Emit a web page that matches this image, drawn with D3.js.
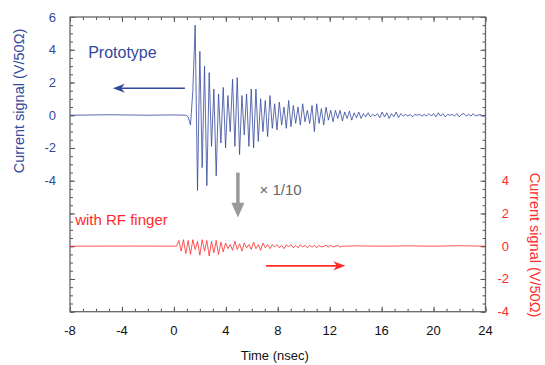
<!DOCTYPE html>
<html>
<head>
<meta charset="utf-8">
<script src="https://cdn.jsdelivr.net/npm/d3@7"></script>
<style>
  body { margin: 0; background: #fff; }
  svg { display: block; font-family: Arial, "Liberation Sans", sans-serif; }
</style>
</head>
<body>
<div id="chart"></div>
<script>
// axis ticks
const xTickLabels = [-8, -4, 0, 4, 8, 12, 16, 20, 24];
const leftTickLabels = [6, 4, 2, 0, -2, -4];
const rightTickLabels = [4, 2, 0, -2, -4];

// prototype signal: flat baseline, then sampled ringing (0.18 ns sampling from 1.10 ns)
const protoBaseline = [[-8, 0], [-5, 0.03], [-2, 0], [0, 0.02], [0.9, 0], [1.0, -0.03]];
const protoStart = 1.10, protoStep = 0.18;
const protoValues = [
  -0.1, -0.6, 1.5, 5.5, -4.6, 3.9, -3.2, 3.0, -4.3, 2.6,
  -1.9, 1.6, -3.7, 1.3, -1.7, 1.7, -2.0, 1.2, -1.0, 2.2,
  -1.9, 2.3, -2.4, 1.2, -1.2, 1.3, -1.9, 1.6, -2.0, 1.6,
  -1.6, 1.0, -1.0, 0.9, -1.3, 1.2, -0.8, 0.7, -0.9, 0.8,
  -0.6, 0.5, -0.8, 0.9, -0.7, 0.6, -0.5, 0.5, -0.6, 0.7,
  -0.4, 0.3, -0.5, 0.6, -1.0, 0.7, -0.5, 0.4, -0.6, 0.5,
  -0.3, 0.3, -0.4, 0.3, -0.2, 0.3, -0.35, 0.2, -0.2, 0.25,
  -0.3, 0.15, -0.15, 0.2, -0.2, 0.1, -0.1, 0.15, -0.1, 0.05,
  -0.05, 0.1, -0.15, 0.2, -0.1, 0.15, -0.2, 0.1, -0.1, 0.2,
  -0.15, 0.1, -0.05, 0.05, -0.05, 0.05, -0.1, 0.05, 0.0, 0.05,
  -0.05, 0.05, -0.05, 0.1, -0.05, 0.1, -0.1, 0.15, -0.05, 0.1,
  -0.1, 0.05, 0.0, 0.05, -0.05, 0.1, -0.1, 0.05, 0.1, -0.05,
  0.05, -0.05, 0.1, -0.05, 0.0, 0.05, -0.05, 0.0
];

// with RF finger signal (right axis)
const fingerBaseline = [[-8, 0], [-3, 0.01], [0.1, 0]];
const fingerStart = 0.20, fingerStep = 0.18;
const fingerValues = [
  0.0, 0.35, -0.3, 0.4, -0.45, 0.35, -0.5, 0.4, -0.2, 0.3,
  -0.55, 0.4, -0.3, 0.35, -0.6, 0.3, -0.4, 0.35, -0.5, 0.25,
  -0.35, 0.2, -0.15, 0.1, -0.25, 0.3, -0.2, 0.15, -0.3, 0.2,
  -0.1, 0.1, -0.2, 0.25, -0.15, 0.1, -0.25, 0.2, -0.1, 0.1,
  -0.15, 0.1, -0.05, 0.1, -0.1, 0.05, -0.15, 0.1, -0.05, 0.1,
  -0.1, 0.05, -0.1, 0.1, -0.05, 0.05, -0.1, 0.05, -0.05, 0.05,
  -0.1, 0.05, -0.05, 0.0, 0.05, -0.05, 0.05, -0.05, 0.0, 0.05,
  -0.05, 0.0
];
const fingerTail = [[14, 0.02], [16, 0], [18, 0.02], [20, 0], [22, 0.03], [24, 0]];

const blue = '#34489c', red = '#ff2b2b', gray = '#999999';
const W = 545, H = 365;
const m = { left: 70, right: 59.5, top: 17, bottom: 53.3 };

const svg = d3.select('#chart').append('svg').attr('width', W).attr('height', H);

const x = d3.scaleLinear().domain([-8, 24]).range([m.left, W - m.right]);
const yL = d3.scaleLinear().domain([-12, 6]).range([H - m.bottom, m.top]);
const yR = d3.scaleLinear().domain([-4, 14]).range([H - m.bottom, m.top]);
const x0 = x.range()[0], x1 = x.range()[1], yTop = yL.range()[1], yBot = yL.range()[0];

// ticks drawn inward on all four sides
function ticks(axisGen, tr, vals, size) {
  const g = svg.append('g').attr('transform', tr)
    .call(axisGen.tickValues(vals).tickSize(size).tickFormat(''));
  g.select('.domain').remove();
  g.selectAll('.tick line').attr('stroke', '#555').attr('stroke-width', 1);
  return g;
}
const xMinor = d3.range(-8, 24.01, 1), xMajor = d3.range(-8, 24.01, 4);
const yMinor = d3.range(-12, 6.01, 0.5), yMajor = d3.range(-12, 6.01, 2);
const rMinor = d3.range(-4, 14.01, 0.5), rMajor = d3.range(-4, 14.01, 2);
ticks(d3.axisBottom(x), `translate(0,${yBot})`, xMinor, -3);
ticks(d3.axisBottom(x), `translate(0,${yBot})`, xMajor, -5);
ticks(d3.axisTop(x), `translate(0,${yTop})`, xMinor, -3);
ticks(d3.axisTop(x), `translate(0,${yTop})`, xMajor, -5);
ticks(d3.axisLeft(yL), `translate(${x0},0)`, yMinor, -3);
ticks(d3.axisLeft(yL), `translate(${x0},0)`, yMajor, -5);
ticks(d3.axisRight(yR), `translate(${x1},0)`, rMinor, -3);
ticks(d3.axisRight(yR), `translate(${x1},0)`, rMajor, -5);

// frame
svg.append('rect')
  .attr('x', x0).attr('y', yTop).attr('width', x1 - x0).attr('height', yBot - yTop)
  .attr('fill', 'none').attr('stroke', '#666').attr('stroke-width', 1.3);

// tick labels
svg.append('g').selectAll('text').data(xTickLabels).join('text')
  .attr('x', d => x(d)).attr('y', yBot + 23)
  .attr('text-anchor', 'middle').attr('font-size', 13).attr('fill', '#111')
  .text(d => d);
svg.append('g').selectAll('text').data(leftTickLabels).join('text')
  .attr('x', x0 - 14).attr('y', d => yL(d) + 4.5)
  .attr('text-anchor', 'end').attr('font-size', 13).attr('fill', blue)
  .text(d => d);
svg.append('g').selectAll('text').data(rightTickLabels).join('text')
  .attr('x', x1 + 23.5).attr('y', d => yR(d) + 4.5)
  .attr('text-anchor', 'end').attr('font-size', 13).attr('fill', red)
  .text(d => d);

// axis titles
svg.append('text')
  .attr('transform', `translate(24,101) rotate(-90)`)
  .attr('text-anchor', 'middle').attr('font-size', 14.5).attr('fill', blue)
  .text('Current signal (V/50\u03A9)');
svg.append('text')
  .attr('transform', `translate(529.5,245) rotate(90)`)
  .attr('text-anchor', 'middle').attr('font-size', 14.5).attr('fill', red)
  .text('Current signal (V/50\u03A9)');
svg.append('text')
  .attr('x', (x0 + x1) / 2 - 3).attr('y', 360)
  .attr('text-anchor', 'middle').attr('font-size', 13).attr('fill', '#111')
  .text('Time (nsec)');

// signals
const protoData = protoBaseline.concat(protoValues.map((v, i) => [protoStart + i * protoStep, v]));
const fingerData = fingerBaseline
  .concat(fingerValues.map((v, i) => [fingerStart + i * fingerStep, v]))
  .concat(fingerTail);

svg.append('path').datum(protoData)
  .attr('fill', 'none').attr('stroke', blue).attr('stroke-width', 0.8)
  .attr('d', d3.line().x(d => x(d[0])).y(d => yL(d[1])));
svg.append('path').datum(fingerData)
  .attr('fill', 'none').attr('stroke', red).attr('stroke-width', 0.8)
  .attr('d', d3.line().x(d => x(d[0])).y(d => yR(d[1])));

// annotations
function arrow(xa, xb, yy, color, w, head) {
  const dir = Math.sign(xb - xa);
  svg.append('line')
    .attr('x1', xa).attr('x2', xb - dir * head * 0.6).attr('y1', yy).attr('y2', yy)
    .attr('stroke', color).attr('stroke-width', w);
  svg.append('path')
    .attr('d', `M${xb},${yy} L${xb - dir * head},${yy - head * 0.38} L${xb - dir * head * 0.7},${yy} L${xb - dir * head},${yy + head * 0.38} Z`)
    .attr('fill', color);
}
svg.append('text').attr('x', x(-6.6)).attr('y', yL(3.5))
  .attr('font-size', 16).attr('fill', blue).text('Prototype');
arrow(x(0.85), x(-4.7), yL(1.65), blue, 1.6, 12);

svg.append('text').attr('x', x(-7.6)).attr('y', yR(1.3))
  .attr('font-size', 15).attr('fill', red).text('with RF finger');
arrow(x(7.1), x(13.2), yR(-1.2), red, 1.6, 12);

// gray down arrow (x 1/10)
const gx = x(4.93);
svg.append('line').attr('x1', gx).attr('x2', gx)
  .attr('y1', yL(-3.5)).attr('y2', yL(-5.4))
  .attr('stroke', gray).attr('stroke-width', 3.5);
svg.append('path')
  .attr('d', `M${gx - 6.5},${yL(-5.35)} L${gx + 6.5},${yL(-5.35)} L${gx},${yL(-6.25)} Z`)
  .attr('fill', gray);
svg.append('text').attr('x', x(6.6)).attr('y', yL(-4.9))
  .attr('font-size', 15).attr('fill', '#666').text('\u00D7 1/10');
</script>
</body>
</html>
